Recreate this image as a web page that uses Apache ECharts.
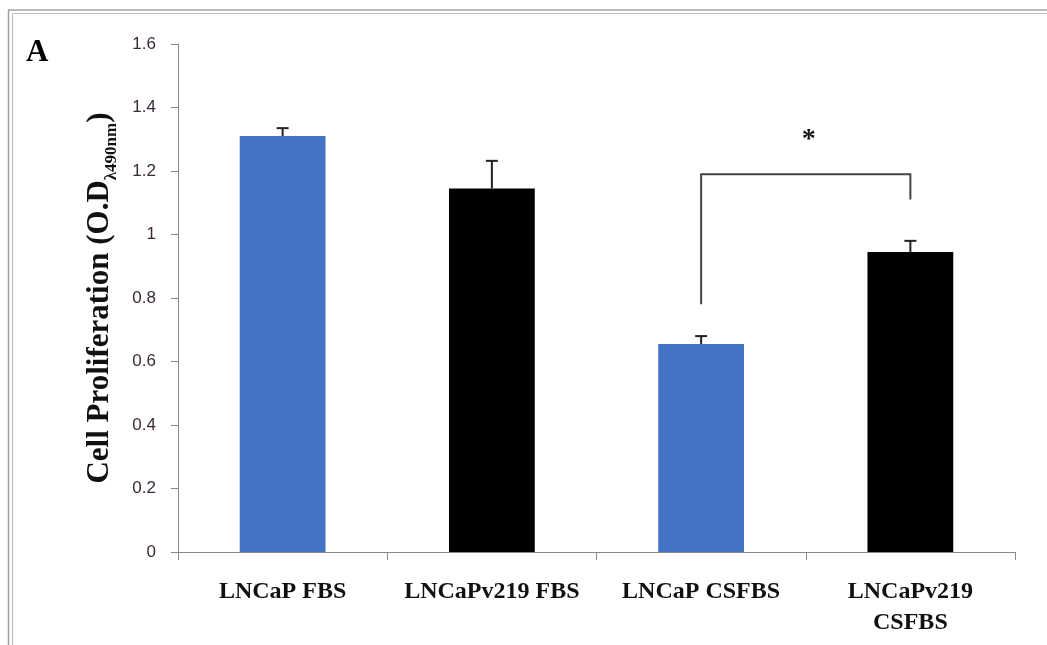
<!DOCTYPE html>
<html><head><meta charset="utf-8">
<script src="https://cdn.jsdelivr.net/npm/echarts@6/dist/echarts.min.js"></script>
<style>html,body{margin:0;padding:0;background:#fff}#c{width:1047px;height:645px}</style>
</head><body><div id="c"></div>
<script>
const categories = ['LNCaP FBS', 'LNCaPv219 FBS', 'LNCaP CSFBS', 'LNCaPv219\nCSFBS'];
const means = [1.31, 1.145, 0.655, 0.945];
const errors = [0.025, 0.087, 0.025, 0.035];
const barColors = ['#4472C4', '#000000', '#4472C4', '#000000'];
const yTicks = {min: 0, max: 1.6, interval: 0.2};
// bracket: [leftCat, leftBottom, level, rightCat, rightBottom, starLevel]
const bracket = [[2, 0.78, 1.19, 3, 1.11, 1.31]];

const chart = echarts.init(document.getElementById('c'));
chart.setOption({
  backgroundColor: '#fff',
  animation: false,
  grid: {left: 178, right: 32, top: 44, bottom: 93},
  graphic: [
    {type: 'line', shape: {x1: 8.5, y1: 10, x2: 8.5, y2: 645}, style: {stroke: '#a0a0a0', lineWidth: 1.5}},
    {type: 'line', shape: {x1: 12.5, y1: 13.5, x2: 12.5, y2: 645}, style: {stroke: '#c0c0c0', lineWidth: 1.2}},
    {type: 'line', shape: {x1: 8, y1: 10, x2: 1047, y2: 10}, style: {stroke: '#a0a0a0', lineWidth: 1.5}},
    {type: 'line', shape: {x1: 12, y1: 13.5, x2: 1047, y2: 13.5}, style: {stroke: '#c0c0c0', lineWidth: 1.2}},
    {type: 'text', left: 26, top: 37, style: {text: 'A', font: 'bold 31px "Liberation Serif", serif', fill: '#000'}}
  ],
  xAxis: {
    type: 'category', data: categories,
    axisLine: {lineStyle: {color: '#888', width: 1}},
    axisTick: {show: true, interval: 0, length: 8, lineStyle: {color: '#888'}},
    axisLabel: {interval: 0, hideOverlap: false, color: '#111', fontFamily: '"Liberation Serif", serif', fontWeight: 'bold', fontSize: 24, margin: 24, lineHeight: 31}
  },
  yAxis: {
    type: 'value', min: yTicks.min, max: yTicks.max, interval: yTicks.interval,
    splitLine: {show: false},
    axisLine: {show: true, lineStyle: {color: '#888', width: 1}},
    axisTick: {show: true, length: 7, lineStyle: {color: '#888'}},
    axisLabel: {color: '#3a2a3a', fontFamily: '"Liberation Sans", Arial, sans-serif', fontSize: 17, margin: 22,
      formatter: v => (Math.round(v * 10) / 10).toString()},
    name: '{a|Cell Proliferation (O.D}{s|λ490nm}{a|)}',
    nameLocation: 'middle', nameGap: 63, nameRotate: 90,
    nameTextStyle: {
      rich: {
        a: {fontFamily: '"Liberation Serif", serif', fontWeight: 'bold', fontSize: 31, color: '#111', verticalAlign: 'bottom', lineHeight: 34},
        s: {fontFamily: '"Liberation Serif", serif', fontWeight: 'bold', fontSize: 17, color: '#111', verticalAlign: 'bottom', lineHeight: 24, padding: [0, 0, -5, 0]}
      }
    }
  },
  series: [
    {
      type: 'bar', barWidth: '41%',
      data: means.map((v, i) => ({value: v, itemStyle: {color: barColors[i]}}))
    },
    {
      type: 'custom', z: 5,
      data: means.map((v, i) => [i, v, errors[i]]),
      renderItem: (params, api) => {
        const i = api.value(0), v = api.value(1), e = api.value(2);
        const p0 = api.coord([i, v]);
        const p1 = api.coord([i, v + e]);
        const style = {stroke: '#222', lineWidth: 2};
        return {type: 'group', children: [
          {type: 'line', shape: {x1: p0[0], y1: p0[1], x2: p1[0], y2: p1[1]}, style},
          {type: 'line', shape: {x1: p1[0] - 6, y1: p1[1], x2: p1[0] + 6, y2: p1[1]}, style}
        ]};
      }
    },
    {
      type: 'custom', z: 5,
      data: bracket,
      renderItem: (params, api) => {
        const lc = api.value(0), lb = api.value(1), lvl = api.value(2), rc = api.value(3), rb = api.value(4), sl = api.value(5);
        const a = api.coord([lc, lb]), b = api.coord([lc, lvl]), c = api.coord([rc, lvl]), d = api.coord([rc, rb]);
        const s = api.coord([lc, sl]);
        return {type: 'group', children: [
          {type: 'polyline', shape: {points: [a, b, c, d]}, style: {stroke: '#444', lineWidth: 2, fill: null}},
          {type: 'text', style: {text: '*', x: (b[0] + c[0]) / 2 + 3, y: s[1] + 4, align: 'center', verticalAlign: 'middle',
            font: 'bold 28px "Liberation Serif", serif', fill: '#111'}}
        ]};
      }
    }
  ]
});
</script></body></html>
